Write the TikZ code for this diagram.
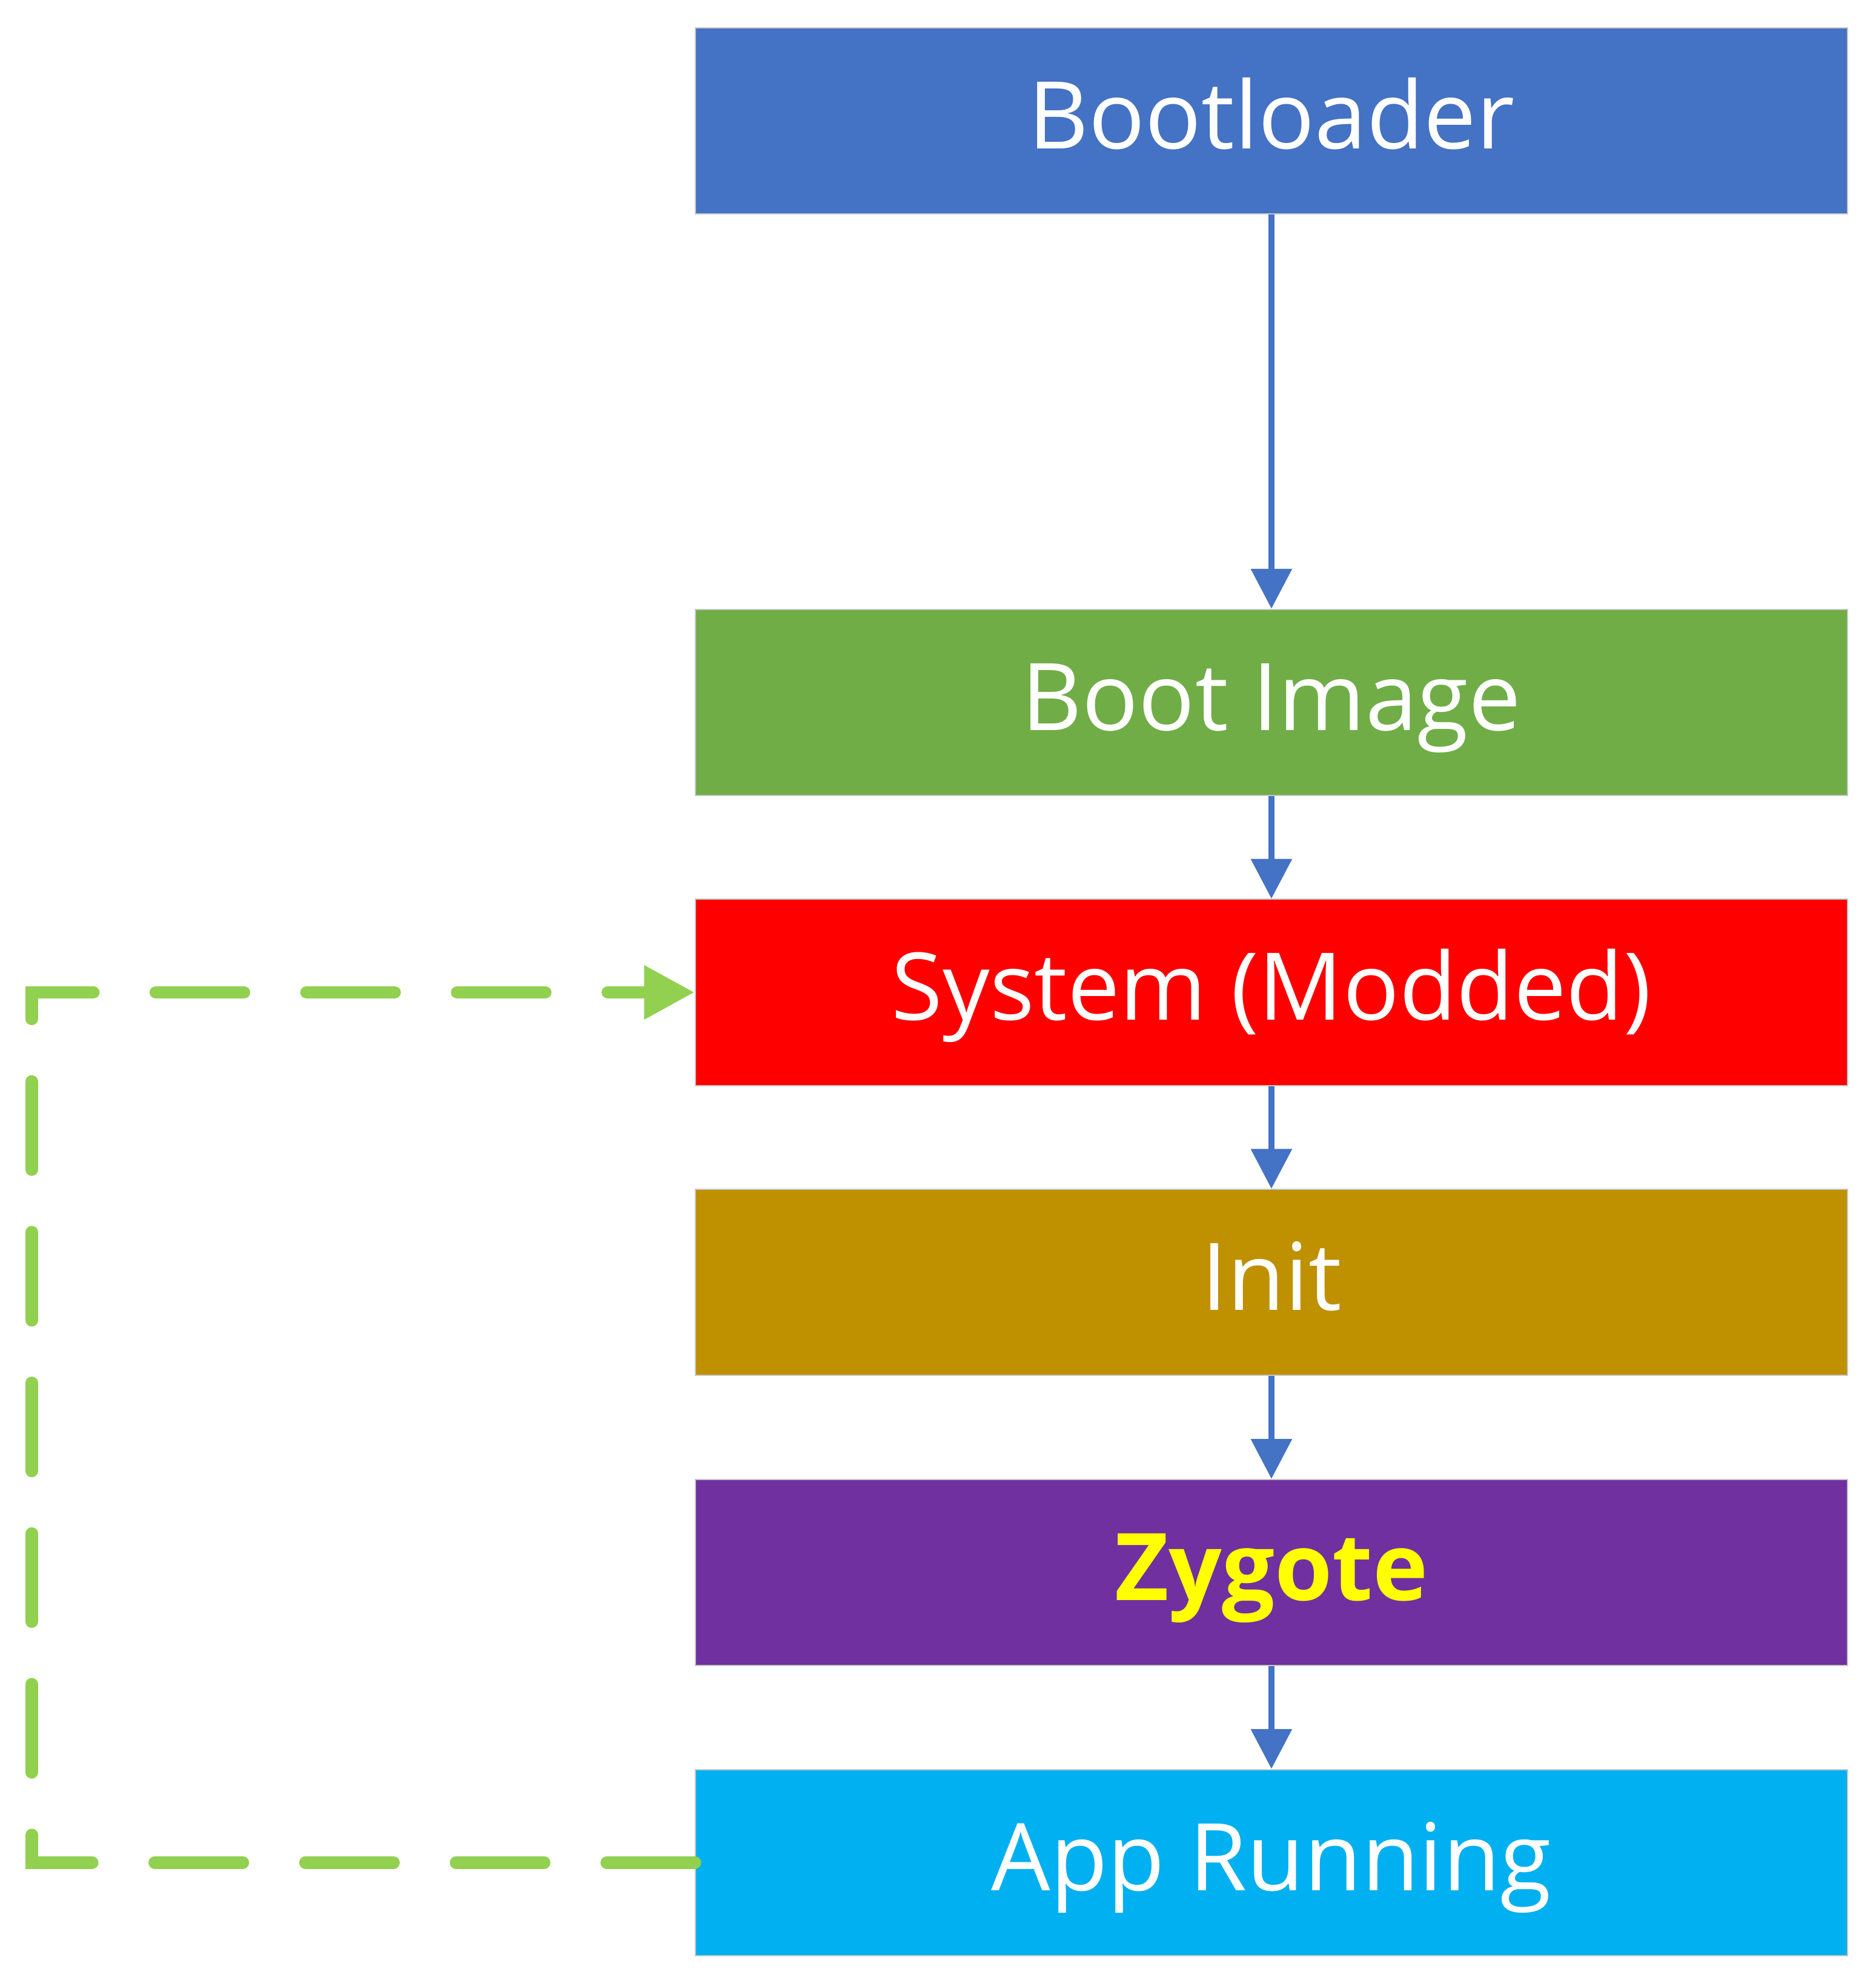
\documentclass[tikz,border=0pt]{standalone}
\usepackage{fontspec}
\setmainfont{Open Sans}
\usetikzlibrary{arrows.meta}

\definecolor{bootblue}{HTML}{4472C4}
\definecolor{imagegreen}{HTML}{70AD47}
\definecolor{sysred}{HTML}{FF0000}
\definecolor{initgold}{HTML}{BF9000}
\definecolor{zygpurple}{HTML}{7030A0}
\definecolor{appcyan}{HTML}{00B0F0}
\definecolor{loopgreen}{HTML}{92D050}
\definecolor{zygyellow}{HTML}{FFFF00}

\begin{document}
\begin{tikzpicture}[
    x=0.02cm, y=-0.02cm,
    every node/.style={font=\fontsize{42}{50}\selectfont},
    box/.style={
        draw=black!22,
        line width=0.5pt,
        minimum width=18.2cm,
        minimum height=2.94cm,
        inner sep=0pt,
        text height=1.2cm,
        text depth=0.32cm,
        text=white
    },
    flow/.style={
        draw=bootblue,
        line width=0.1cm,
        -{Triangle[width=0.63cm,length=0.63cm]}
    },
    loop/.style={
        draw=loopgreen,
        line width=0.2cm,
        line cap=round,
        dash pattern=on 1.39cm off 0.99cm,
        -{Triangle[width=0.8cm,length=0.8cm]}
    }
]

    % page frame
    \useasboundingbox (0,0) rectangle (1481,1568);

    % boot chain
    \node[box, fill=bootblue] (boot) at (1004,95.5) {Bootloader};
    \node[box, fill=imagegreen] (image) at (1004,554.5) {Boot Image};
    \node[box, fill=sysred] (system) at (1004,783.5) {System (Modded)};
    \node[box, fill=initgold] (init) at (1004,1012.5) {Init};
    \node[box, fill=zygpurple, text=zygyellow, font=\fontsize{42}{50}\selectfont\bfseries]
        (zygote) at (1004,1241.5) {Zygote};
    \node[box, fill=appcyan] (app) at (1004,1470.5) {App Running};

    % arrows between stages
    \draw[flow] (boot) -- (image);
    \draw[flow] (image) -- (system);
    \draw[flow] (system) -- (init);
    \draw[flow] (init) -- (zygote);
    \draw[flow] (zygote) -- (app);

    % loop back
    \coordinate (corner) at (25,1470.5);
    \draw[loop] (app.west) -- (corner) |- (system.west);

\end{tikzpicture}
\end{document}
